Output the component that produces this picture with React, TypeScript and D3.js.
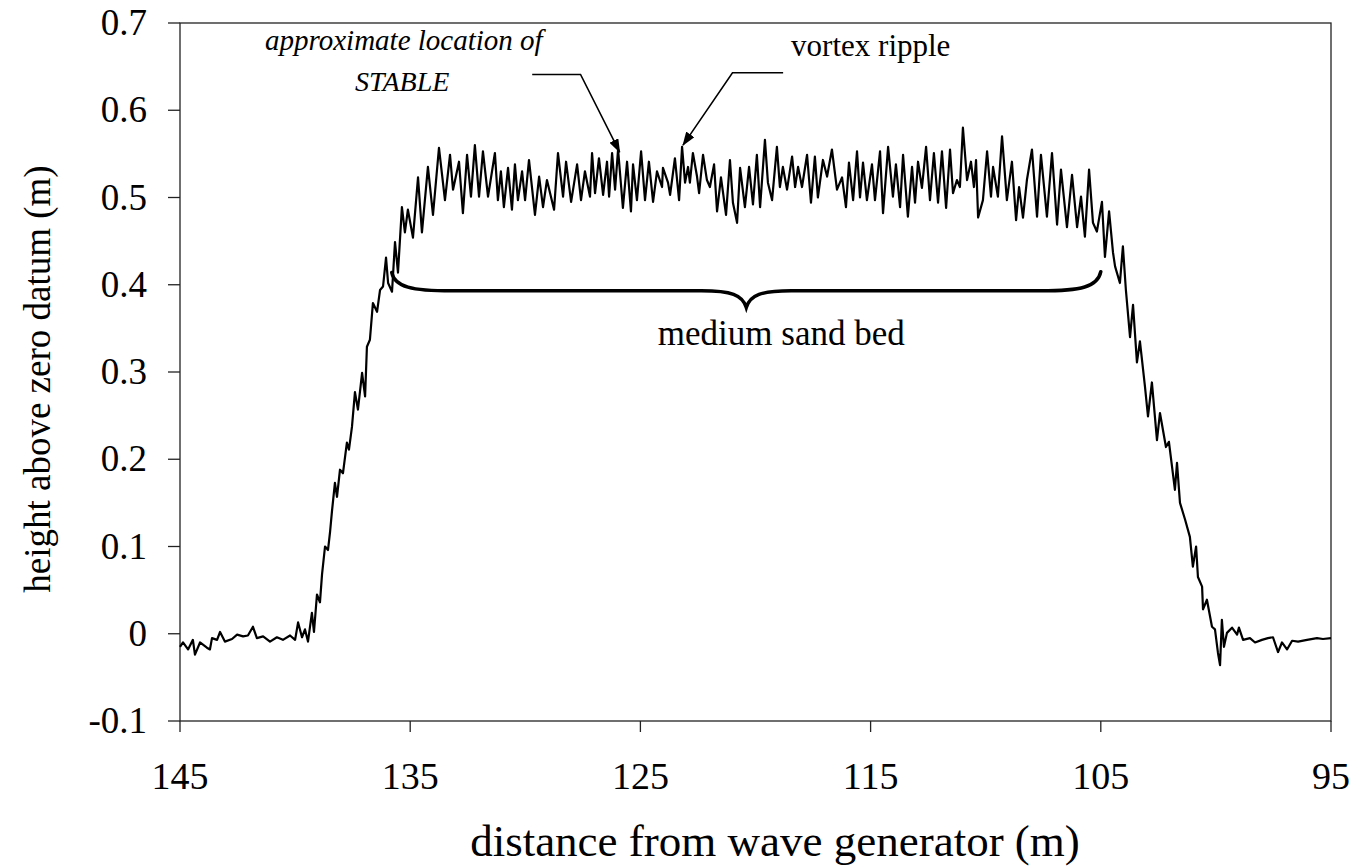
import React from "react";
import * as d3 from "d3";

// distance from wave generator (m), height above zero datum (m)
const leftBed: [number, number][] = [
  [145.0, -0.015], [144.87, -0.01], [144.65, -0.018], [144.44, -0.007], [144.35, -0.024],
  [144.13, -0.01], [143.83, -0.016], [143.7, -0.018], [143.61, -0.005], [143.39, -0.007],
  [143.26, 0.002], [143.05, -0.009], [142.74, -0.006], [142.52, -0.001], [142.26, -0.003],
  [142.05, -0.002], [141.83, 0.008], [141.66, -0.005], [141.39, -0.003], [141.09, -0.009],
  [140.79, -0.004], [140.53, -0.007], [140.22, -0.002], [140.0, -0.007], [139.87, 0.013],
  [139.7, -0.004], [139.57, 0.005], [139.44, -0.009],
];

const leftSlope: [number, number][] = [
  [139.27, 0.024], [139.18, 0.002], [139.05, 0.045], [138.92, 0.036], [138.83, 0.068],
  [138.7, 0.1], [138.57, 0.096], [138.48, 0.117], [138.4, 0.14], [138.27, 0.173],
  [138.18, 0.157], [138.05, 0.188], [137.92, 0.184], [137.75, 0.219], [137.66, 0.211],
  [137.53, 0.237], [137.4, 0.277], [137.27, 0.257], [137.09, 0.299], [136.96, 0.272],
  [136.88, 0.329], [136.75, 0.337], [136.62, 0.379], [136.44, 0.369], [136.31, 0.394],
  [136.18, 0.398], [136.05, 0.431], [135.96, 0.402], [135.79, 0.392], [135.66, 0.449],
  [135.53, 0.414], [135.36, 0.489], [135.23, 0.46], [135.1, 0.486], [134.88, 0.454],
];

const ripples: [number, number][] = [
  [134.66, 0.523], [134.49, 0.46], [134.23, 0.535], [134.01, 0.48], [133.75, 0.557],
  [133.49, 0.497], [133.27, 0.549], [133.14, 0.509], [132.88, 0.541], [132.71, 0.482],
  [132.53, 0.549], [132.36, 0.501], [132.19, 0.56], [132.01, 0.501], [131.84, 0.553],
  [131.62, 0.501], [131.32, 0.551], [131.19, 0.497], [131.06, 0.53], [130.93, 0.489],
  [130.75, 0.534], [130.58, 0.486], [130.45, 0.538], [130.32, 0.497], [130.14, 0.53],
  [130.01, 0.497], [129.84, 0.543], [129.58, 0.48], [129.4, 0.524], [129.23, 0.489],
  [129.06, 0.52], [128.75, 0.486], [128.58, 0.551], [128.36, 0.501], [128.23, 0.541],
  [128.01, 0.495], [127.75, 0.538], [127.58, 0.497], [127.41, 0.53], [127.19, 0.501],
  [127.1, 0.551], [126.97, 0.505], [126.8, 0.545], [126.62, 0.503], [126.45, 0.541],
  [126.36, 0.501], [126.23, 0.551], [126.1, 0.509], [125.97, 0.555], [125.76, 0.488],
  [125.58, 0.541], [125.41, 0.484], [125.32, 0.538], [125.15, 0.497], [124.97, 0.553],
  [124.8, 0.497], [124.63, 0.541], [124.45, 0.495], [124.28, 0.53], [124.06, 0.512],
  [124.02, 0.534], [123.8, 0.517], [123.71, 0.503], [123.5, 0.545], [123.32, 0.497],
  [123.19, 0.558], [123.06, 0.517], [122.93, 0.535], [122.85, 0.517], [122.72, 0.551],
  [122.54, 0.524], [122.45, 0.505], [122.28, 0.549], [122.11, 0.52], [121.98, 0.512],
  [121.8, 0.538], [121.67, 0.484], [121.5, 0.523], [121.28, 0.48], [121.11, 0.543],
  [120.98, 0.494], [120.8, 0.471], [120.67, 0.534], [120.46, 0.489], [120.28, 0.535],
  [120.11, 0.492], [119.94, 0.549], [119.8, 0.489], [119.59, 0.566], [119.46, 0.517],
  [119.28, 0.497], [119.07, 0.558], [118.94, 0.512], [118.81, 0.535], [118.63, 0.509],
  [118.41, 0.547], [118.28, 0.512], [118.15, 0.535], [117.98, 0.512], [117.76, 0.549],
  [117.59, 0.494], [117.42, 0.547], [117.29, 0.5], [117.07, 0.543], [116.89, 0.524],
  [116.68, 0.555], [116.46, 0.509], [116.24, 0.523], [116.07, 0.489], [115.94, 0.54],
  [115.76, 0.497], [115.59, 0.553], [115.46, 0.5], [115.33, 0.54], [115.16, 0.497],
  [114.94, 0.538], [114.81, 0.497], [114.59, 0.553], [114.46, 0.482], [114.24, 0.558],
  [114.03, 0.501], [113.9, 0.538], [113.72, 0.489], [113.59, 0.549], [113.38, 0.478],
  [113.2, 0.535], [113.07, 0.494], [112.94, 0.541], [112.77, 0.511], [112.59, 0.558],
  [112.42, 0.497], [112.25, 0.551], [112.07, 0.494], [111.9, 0.553], [111.72, 0.488],
  [111.55, 0.555], [111.42, 0.505], [111.25, 0.52], [111.12, 0.512], [110.99, 0.58],
  [110.81, 0.52], [110.64, 0.541], [110.51, 0.512], [110.42, 0.543], [110.33, 0.477],
  [110.12, 0.497], [109.94, 0.553], [109.77, 0.501], [109.68, 0.535], [109.47, 0.501],
  [109.29, 0.57], [109.08, 0.497], [108.86, 0.541], [108.68, 0.474], [108.55, 0.512],
  [108.38, 0.477], [108.21, 0.52], [107.99, 0.555], [107.77, 0.478], [107.6, 0.549],
  [107.34, 0.478], [107.12, 0.551], [106.9, 0.469], [106.73, 0.532], [106.47, 0.466],
  [106.25, 0.526], [106.03, 0.466], [105.86, 0.501], [105.69, 0.455], [105.51, 0.532],
  [105.34, 0.471], [105.17, 0.461], [104.95, 0.495],
];

const rightSlope: [number, number][] = [
  [104.82, 0.432], [104.64, 0.484], [104.47, 0.437], [104.38, 0.421], [104.17, 0.402],
  [104.04, 0.444], [103.91, 0.394], [103.73, 0.34], [103.6, 0.377], [103.43, 0.311],
  [103.3, 0.335], [103.08, 0.283], [102.95, 0.249], [102.78, 0.288], [102.56, 0.222],
  [102.43, 0.253], [102.17, 0.214], [102.04, 0.22], [101.78, 0.165], [101.69, 0.196],
  [101.56, 0.15], [101.34, 0.131], [101.13, 0.111], [101.0, 0.077], [100.86, 0.1],
  [100.78, 0.065], [100.6, 0.054], [100.56, 0.028], [100.39, 0.039], [100.17, 0.008],
  [100.04, 0.005], [99.91, -0.022], [99.82, -0.036], [99.74, 0.016], [99.65, -0.015],
  [99.52, 0.001],
];

const rightBed: [number, number][] = [
  [99.3, 0.007], [99.08, -0.001], [99.0, 0.007], [98.82, -0.007], [98.52, -0.005],
  [98.3, -0.01], [98.0, -0.007], [97.74, -0.005], [97.52, -0.004], [97.3, -0.021],
  [97.13, -0.01], [96.91, -0.018], [96.69, -0.008], [96.43, -0.009], [96.04, -0.007],
  [95.61, -0.005], [95.35, -0.006], [95.0, -0.005],
];

const xTicks = [145, 135, 125, 115, 105, 95];
const yTicks = [-0.1, 0, 0.1, 0.2, 0.3, 0.4, 0.5, 0.6, 0.7];
const yTickLabels = ["-0.1", "0", "0.1", "0.2", "0.3", "0.4", "0.5", "0.6", "0.7"];

// annotation anchors, in data units
const stableLeader: [number, number][] = [[129.7, 0.641], [127.6, 0.641], [125.9, 0.552]];
const rippleLeader: [number, number][] = [[118.8, 0.643], [121.0, 0.643], [123.15, 0.56]];
const braceLeft: [number, number] = [135.8, 0.414];
const braceRight: [number, number] = [105.0, 0.415];
const braceMid: [number, number] = [120.4, 0.374];
const braceBar = 0.393;

const SERIF = "Liberation Serif";

function T(props: {
  x?: number;
  y?: number;
  size: number;
  italic?: boolean;
  anchor?: string;
  transform?: string;
  children: React.ReactNode;
}) {
  return (
    <text
      x={props.x}
      y={props.y}
      transform={props.transform}
      textAnchor={props.anchor || "start"}
      fill="#000"
      style={{ fontFamily: SERIF, fontSize: props.size, fontStyle: props.italic ? "italic" : "normal" }}
    >
      {props.children}
    </text>
  );
}

export default function App() {
  const W = 1356;
  const H = 866;
  const x = d3.scaleLinear().domain([145, 95]).range([180, 1331]);
  const y = d3.scaleLinear().domain([-0.1, 0.7]).range([721, 23]);

  const profile = [...leftBed, ...leftSlope, ...ripples, ...rightSlope, ...rightBed];
  const line = d3
    .line<[number, number]>()
    .x((d) => x(d[0]))
    .y((d) => y(d[1]));

  const xl = x(braceLeft[0]);
  const yl = y(braceLeft[1]);
  const xr = x(braceRight[0]);
  const yr = y(braceRight[1]);
  const xm = x(braceMid[0]);
  const ym = y(braceMid[1]);
  const yb = y(braceBar);
  const brace = d3.path();
  brace.moveTo(xl, yl);
  brace.bezierCurveTo(xl + 3, yb - 4, xl + 20, yb, xl + 60, yb);
  brace.lineTo(xm - 45, yb);
  brace.bezierCurveTo(xm - 15, yb, xm - 4, yb + 4, xm, ym);
  brace.bezierCurveTo(xm + 4, yb + 4, xm + 15, yb, xm + 45, yb);
  brace.lineTo(xr - 60, yb);
  brace.bezierCurveTo(xr - 20, yb, xr - 3, yb - 4, xr, yr);

  const [x0, x1] = x.range();
  const [y0, y1] = y.range();

  return (
    <svg
      width={W}
      height={H}
      style={{ position: "absolute", left: 0, top: 0, background: "#fff" }}
    >
      <defs>
        <marker
          id="arrow"
          viewBox="0 0 14 10"
          refX="13"
          refY="5"
          markerWidth="14"
          markerHeight="10"
          markerUnits="userSpaceOnUse"
          orient="auto"
        >
          <path d="M0,0 L14,5 L0,10 Z" fill="#000" />
        </marker>
      </defs>
      <rect x={0} y={0} width={W} height={H} fill="#fff" />

      {/* frame */}
      <rect
        x={x0}
        y={y1}
        width={x1 - x0}
        height={y0 - y1}
        fill="none"
        stroke="#222"
        strokeWidth={1.3}
      />

      {/* y ticks */}
      {yTicks.map((t, i) => (
        <g key={"y" + i}>
          <line x1={x0 - 12} x2={x0} y1={y(t)} y2={y(t)} stroke="#222" strokeWidth={1.3} />
          <T x={x0 - 33} y={y(t) + 12} anchor="end" size={37}>
            {yTickLabels[i]}
          </T>
        </g>
      ))}

      {/* x ticks */}
      {xTicks.map((t, i) => (
        <g key={"x" + i}>
          <line x1={x(t)} x2={x(t)} y1={y0} y2={y0 + 11} stroke="#222" strokeWidth={1.3} />
          <T x={x(t)} y={y0 + 68} anchor="middle" size={38}>
            {String(t)}
          </T>
        </g>
      ))}

      {/* profile */}
      <path d={line(profile) || ""} fill="none" stroke="#000" strokeWidth={2.2} strokeLinejoin="round" />

      {/* brace */}
      <path d={brace.toString()} fill="none" stroke="#000" strokeWidth={3.5} strokeLinecap="round" />
      <T x={(xl + xr) / 2 + 35} y={yb + 54} anchor="middle" size={35}>
        medium sand bed
      </T>

      {/* STABLE annotation */}
      <path d={line(stableLeader) || ""} fill="none" stroke="#000" strokeWidth={1.6} markerEnd="url(#arrow)" />
      <T x={265} y={50} size={29} italic>
        approximate location of
      </T>
      <T x={355} y={91} size={28} italic>
        STABLE
      </T>

      {/* vortex ripple annotation */}
      <path d={line(rippleLeader) || ""} fill="none" stroke="#000" strokeWidth={1.6} markerEnd="url(#arrow)" />
      <T x={x(rippleLeader[0][0]) + 8} y={56} size={31}>
        vortex ripple
      </T>

      {/* axis titles */}
      <T x={775} y={856} anchor="middle" size={45}>
        distance from wave generator (m)
      </T>
      <T
        transform={`translate(50, ${(y0 + y1) / 2 + 7}) rotate(-90)`}
        anchor="middle"
        size={37}
      >
        height above zero datum (m)
      </T>
    </svg>
  );
}
